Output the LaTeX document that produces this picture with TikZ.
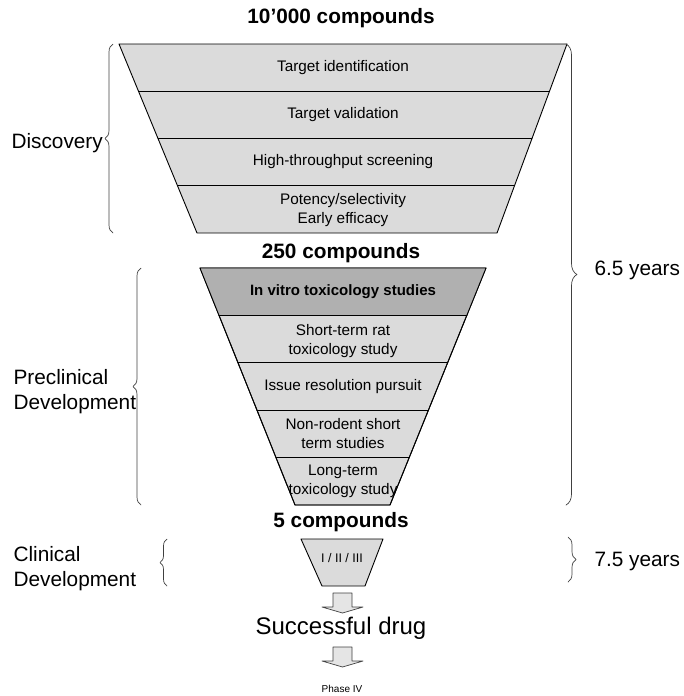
\documentclass[tikz,border=0pt]{standalone}
\usepackage{fontspec}
\setmainfont{Liberation Sans}
\usetikzlibrary{calc,decorations.pathreplacing}

\begin{document}
\begin{tikzpicture}[x=1pt, y=-1pt, line cap=round, line join=round]
  % styles
  \tikzset{
    stage/.style={draw=black, fill=black!14, line width=0.9pt},
    hot/.style={fill=black!31},
    row/.style={font=\fontsize{15.3}{19}\selectfont, align=center},
    count/.style={font=\fontsize{20.8}{24}\selectfont\bfseries},
    phase/.style={font=\fontsize{20.8}{25}\selectfont, align=left, anchor=west},
    brc/.style={draw=black!75, line width=0.7pt, decorate, decoration={brace, amplitude=#1}},
    blockarrow/.style={draw=black!75, fill=black!10, line width=0.7pt}
  }

  \useasboundingbox (0,0) rectangle (684,696);

  % ----- funnel corners -----
  \coordinate (A1) at (119,44);  \coordinate (B1) at (567,44);
  \coordinate (C1) at (497,233); \coordinate (D1) at (197,233);
  \coordinate (A2) at (200,268); \coordinate (B2) at (486,268);
  \coordinate (C2) at (390,505); \coordinate (D2) at (295,505);
  \coordinate (A3) at (301,539); \coordinate (B3) at (383,539);
  \coordinate (C3) at (365,586); \coordinate (D3) at (322,586);

  % ----- funnels -----
  \draw[stage] (A1) -- (B1) -- (C1) -- (D1) -- cycle;
  \foreach \t in {0.25,0.5,0.75}
    \draw[line width=0.9pt] ($(A1)!\t!(D1)$) -- ($(B1)!\t!(C1)$);

  \draw[stage] (A2) -- (B2) -- (C2) -- (D2) -- cycle;
  \fill[hot] (A2) -- (B2) -- ($(B2)!0.2!(C2)$) -- ($(A2)!0.2!(D2)$) -- cycle;
  \draw[line width=0.9pt] (A2) -- (B2) -- (C2) -- (D2) -- cycle;
  \foreach \t in {0.2,0.4,0.6,0.8}
    \draw[line width=0.9pt] ($(A2)!\t!(D2)$) -- ($(B2)!\t!(C2)$);

  \draw[stage] (A3) -- (B3) -- (C3) -- (D3) -- cycle;

  % compound counts
  \node[count] (n10k) at (341,18)  {10’000 compounds};
  \node[count] (n250) at (341,253) {250 compounds};
  \node[count] (n5)   at (341,522) {5 compounds};

  % discovery rows
  \node[row] (tid)  at (343,68)  {Target identification};
  \node[row] (tval) at (343,115) {Target validation};
  \node[row] (hts)  at (343,162) {High-throughput screening};
  \node[row] (pot)  at (343,210) {Potency/selectivity\\Early efficacy};

  % preclinical rows
  \node[row, font=\fontsize{15}{19}\selectfont\bfseries] (vitro) at (343,292) {In vitro toxicology studies};
  \node[row] (rat)   at (343,341) {Short-term rat\\toxicology study};
  \node[row] (issue) at (343,387) {Issue resolution pursuit};
  \node[row] (nonr)  at (343,434) {Non-rodent short\\term studies};
  \node[row] (ltox)  at (343,481) {Long-term\\toxicology study};

  % clinical
  \node[font=\fontsize{12.5}{14}\selectfont] (trial) at (342,558) {I / II / III};

  % ----- block arrows & outcome -----
  \foreach \y in {593,647}
    \draw[blockarrow] (333,\y) -- ++(19,0) -- ++(0,14) -- ++(11,0)
      -- ++(-20.5,6) -- ++(-20.5,-6) -- ++(11,0) -- cycle;
  \node[font=\fontsize{24}{28}\selectfont] (drug) at (341,628) {Successful drug};
  \node[font=\fontsize{10}{12}\selectfont] (ph4) at (342,689) {Phase IV};

  % ----- braces -----
  \draw[brc=8]  (113,233) -- (113,44);
  \draw[brc=8]  (141,505) -- (141,268);
  \draw[brc=7]  (167,586) -- (167,539);
  \draw[brc=11] (566,44)  -- (566,505);
  \draw[brc=8]  (568,537) -- (568,582);

  % phase captions
  \node[phase] (disc)  at (8,143)  {Discovery};
  \node[phase] (precl) at (10,392) {Preclinical\\Development};
  \node[phase] (clin)  at (10,569) {Clinical\\Development};
  \node[phase] (y65)   at (591,270) {6.5 years};
  \node[phase] (y75)   at (591,561) {7.5 years};
\end{tikzpicture}
\end{document}
